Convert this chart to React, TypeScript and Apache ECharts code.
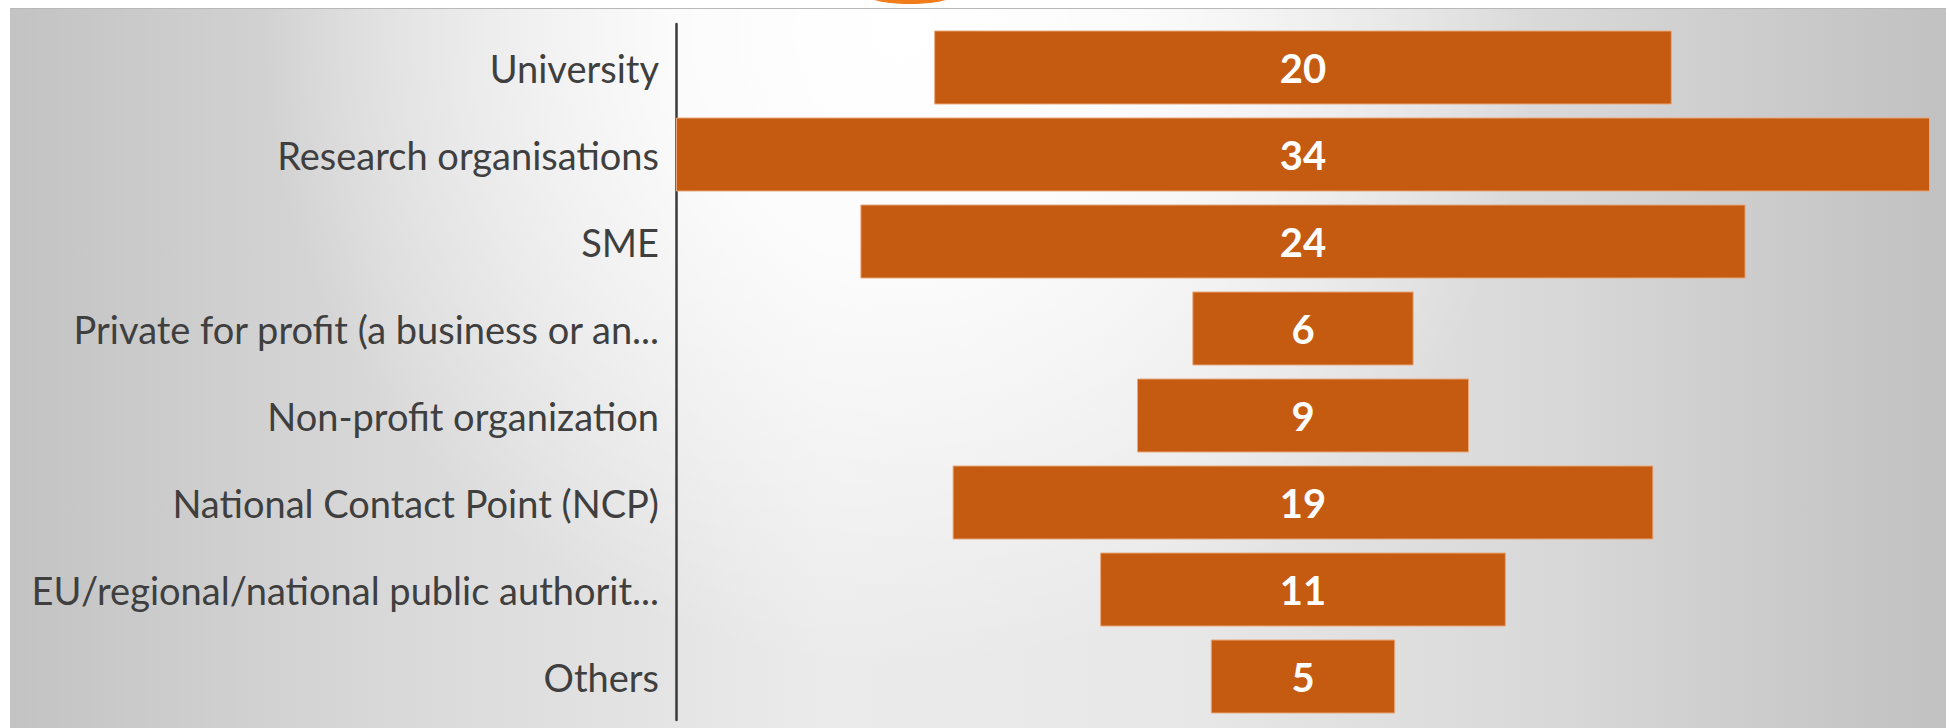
import React, { useEffect, useRef } from "react";
import * as echarts from "echarts";

const categories = [
  "University",
  "Research organisations",
  "SME",
  "Private for profit (a business or an...",
  "Non-profit organization",
  "National Contact Point (NCP)",
  "EU/regional/national public authorit...",
  "Others",
];
const values = [20, 34, 24, 6, 9, 19, 11, 5];
const axisMax = 34;

export default function App() {
  const ref = useRef<HTMLDivElement>(null);
  useEffect(() => {
    if (!ref.current) return;
    const chart = echarts.init(ref.current, undefined, { renderer: "svg" });
    const offsets = values.map((v) => (axisMax - v) / 2);
    chart.setOption({
      animation: false,
      backgroundColor: "#ffffff",
      graphic: [
        {
          type: "rect",
          z: -10,
          silent: true,
          shape: { x: 10, y: 8, width: 1936, height: 720 },
          style: {
            fill: new echarts.graphic.LinearGradient(0, 0, 1, 0, [
              { offset: 0, color: "#c3c3c3" },
              { offset: 0.2, color: "#d9d9d9" },
              { offset: 0.42, color: "#ebebeb" },
              { offset: 0.6, color: "#e8e8e8" },
              { offset: 0.8, color: "#d8d8d8" },
              { offset: 1, color: "#c1c1c1" },
            ]),
          },
        },
        {
          type: "rect",
          z: -9,
          silent: true,
          shape: { x: 10, y: 8, width: 1936, height: 720 },
          style: {
            fill: new echarts.graphic.RadialGradient(900, 30, 640, [
              { offset: 0, color: "rgba(255,255,255,1)" },
              { offset: 0.35, color: "rgba(255,255,255,0.85)" },
              { offset: 1, color: "rgba(255,255,255,0)" },
            ], true),
          },
        },
        {
          type: "line",
          z: -8,
          silent: true,
          shape: { x1: 10, y1: 8.5, x2: 1946, y2: 8.5 },
          style: { stroke: "#b8b8b8", lineWidth: 1 },
        },
        {
          type: "ellipse",
          z: -7,
          silent: true,
          shape: { cx: 910, cy: -6, rx: 45, ry: 10 },
          style: { fill: "#f07d1a" },
        },
      ],
      grid: { left: 676, right: 20, top: 24, bottom: 8, containLabel: false },
      xAxis: {
        type: "value",
        min: 0,
        max: axisMax,
        show: false,
      },
      yAxis: {
        type: "category",
        data: categories,
        inverse: true,
        axisLine: { show: true, lineStyle: { color: "#3a3a3a", width: 2.5 } },
        axisTick: { show: false },
        splitLine: { show: false },
        axisLabel: {
          margin: 17,
          color: "#3f3f3f",
          fontFamily: "Lato",
          fontSize: 38,
        },
      },
      series: [
        {
          type: "bar",
          stack: "f",
          data: offsets,
          barWidth: 74,
          silent: true,
          itemStyle: { color: "rgba(0,0,0,0)" },
        },
        {
          type: "bar",
          stack: "f",
          data: values,
          barWidth: 74,
          itemStyle: { color: "#c55a11", borderColor: "#e9a77a", borderWidth: 1 },
          label: {
            show: true,
            position: "inside",
            color: "#ffffff",
            fontFamily: "Lato",
            fontWeight: "bold",
            fontSize: 40,
          },
        },
      ],
    });
    return () => chart.dispose();
  }, []);
  return (
    <div
      ref={ref}
      style={{ position: "fixed", left: 0, top: 0, width: 1950, height: 728 }}
    />
  );
}
